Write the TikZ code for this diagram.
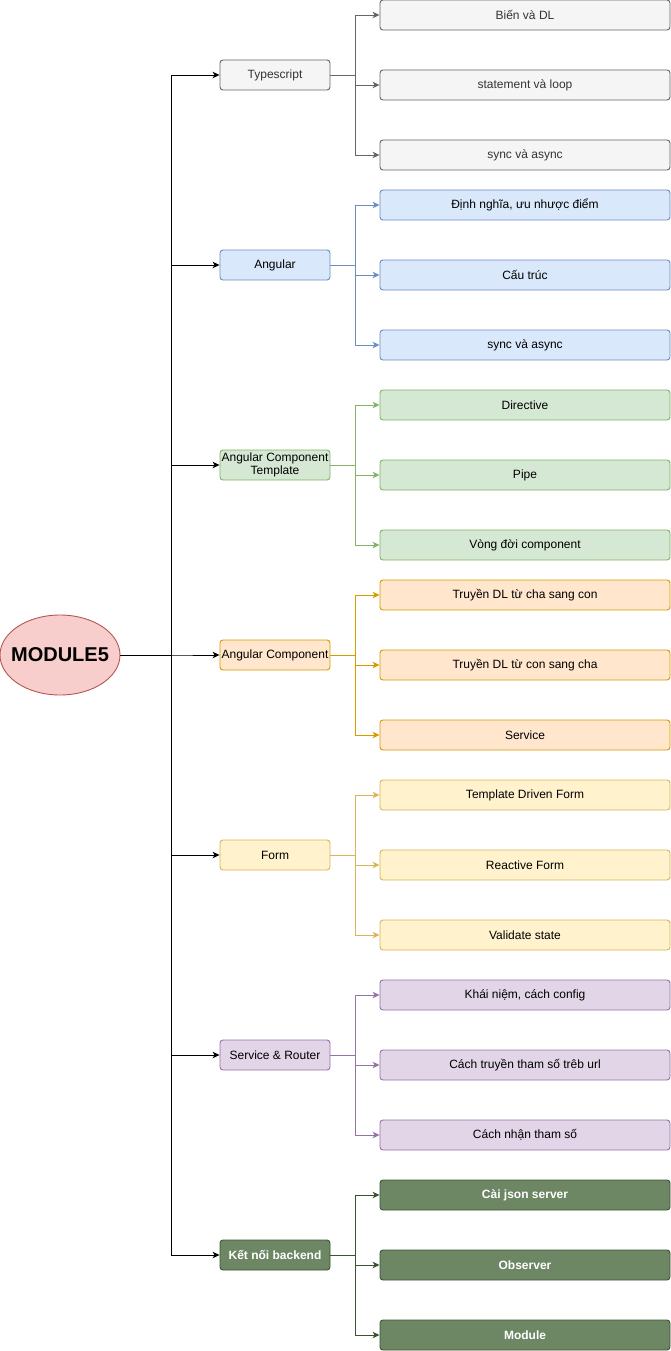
\documentclass[tikz,border=0pt]{standalone}
\usepackage{fontspec}
\setmainfont{Liberation Sans}
\usetikzlibrary{arrows.meta,shapes.geometric}
\definecolor{grayF}{HTML}{F5F5F5}\definecolor{grayD}{HTML}{666666}\definecolor{grayT}{HTML}{333333}
\definecolor{blueF}{HTML}{DAE8FC}\definecolor{blueD}{HTML}{6C8EBF}
\definecolor{greenF}{HTML}{D5E8D4}\definecolor{greenD}{HTML}{82B366}
\definecolor{orangeF}{HTML}{FFE6CC}\definecolor{orangeD}{HTML}{D79B00}
\definecolor{yellowF}{HTML}{FFF2CC}\definecolor{yellowD}{HTML}{D6B656}
\definecolor{purpleF}{HTML}{E1D5E7}\definecolor{purpleD}{HTML}{9673A6}
\definecolor{dgreenF}{HTML}{6D8764}\definecolor{dgreenD}{HTML}{3A5431}
\definecolor{rootF}{HTML}{F8CECC}\definecolor{rootD}{HTML}{B85450}
\begin{document}
\begin{tikzpicture}[x=1pt,y=-1pt,
  every node/.style={font=\fontsize{12}{13.5}\selectfont, inner sep=0pt, line width=0.9pt},
  catbox/.style={draw, rounded corners=3pt, minimum width=110pt, minimum height=30pt, align=center},
  subbox/.style={draw, rounded corners=3pt, minimum width=290pt, minimum height=30pt},
  link/.style={line width=0.9pt, -{Stealth[length=7pt,width=6.5pt,inset=2pt]}},
  sgray/.style={fill=grayF, draw=grayD, text=grayT},
  sblue/.style={fill=blueF, draw=blueD},
  sgreen/.style={fill=greenF, draw=greenD},
  sorange/.style={fill=orangeF, draw=orangeD},
  syellow/.style={fill=yellowF, draw=yellowD},
  spurple/.style={fill=purpleF, draw=purpleD},
  sdgreen/.style={fill=dgreenF, draw=dgreenD, text=white, font=\fontsize{12}{13.5}\selectfont\bfseries},
]
\useasboundingbox (0,0) rectangle (671,1351);

\node[ellipse, draw=rootD, fill=rootF, minimum width=120pt, minimum height=80pt,
  font=\fontsize{20}{22}\selectfont\bfseries] (root) at (60,655) {\makebox[0pt]{MODULE5}};

% categories
\node[catbox, sgray]   (c1) at (275,75)   {Typescript};
\node[catbox, sblue]   (c2) at (275,265)  {Angular};
\node[catbox, sgreen]  (c3) at (275,465)  {Angular Component\\Template};
\node[catbox, sorange] (c4) at (275,655)  {Angular Component};
\node[catbox, syellow] (c5) at (275,855)  {Form};
\node[catbox, spurple] (c6) at (275,1055) {Service \& Router};
\node[catbox, sdgreen] (c7) at (275,1255) {Kết nối backend};

% children
\node[subbox, sgray] (s11) at (525,15)  {Biến và DL};
\node[subbox, sgray] (s12) at (525,85)  {statement và loop};
\node[subbox, sgray] (s13) at (525,155) {sync và async};

\node[subbox, sblue] (s21) at (525,205) {Định nghĩa, ưu nhược điểm};
\node[subbox, sblue] (s22) at (525,275) {Cấu trúc};
\node[subbox, sblue] (s23) at (525,345) {sync và async};

\node[subbox, sgreen] (s31) at (525,405) {Directive};
\node[subbox, sgreen] (s32) at (525,475) {Pipe};
\node[subbox, sgreen] (s33) at (525,545) {Vòng đời component};

\node[subbox, sorange] (s41) at (525,595) {Truyền DL từ cha sang con};
\node[subbox, sorange] (s42) at (525,665) {Truyền DL từ con sang cha};
\node[subbox, sorange] (s43) at (525,735) {Service};

\node[subbox, syellow] (s51) at (525,795) {Template Driven Form};
\node[subbox, syellow] (s52) at (525,865) {Reactive Form};
\node[subbox, syellow] (s53) at (525,935) {Validate state};

\node[subbox, spurple] (s61) at (525,995)  {Khái niệm, cách config};
\node[subbox, spurple] (s62) at (525,1065) {Cách truyền tham số trêb url};
\node[subbox, spurple] (s63) at (525,1135) {Cách nhận tham số};

\node[subbox, sdgreen] (s71) at (525,1195) {Cài json server};
\node[subbox, sdgreen] (s72) at (525,1265) {Observer};
\node[subbox, sdgreen] (s73) at (525,1335) {Module};

% trunk
\coordinate (tr) at (171,655);
\foreach \c in {c1,c2,c3,c4,c5,c6,c7}{
  \draw[link, black] (root.east) -- (tr) |- (\c.west);
}

% branches
\foreach \c/\col in {1/grayD,2/blueD,3/greenD,4/orangeD,5/yellowD,6/purpleD,7/dgreenD}{
  \coordinate (b\c) at ([xshift=25pt]c\c.east);
  \foreach \s in {1,2,3}{
    \draw[link, draw=\col] (c\c.east) -- (b\c) |- (s\c\s.west);
  }
}
\end{tikzpicture}
\end{document}
